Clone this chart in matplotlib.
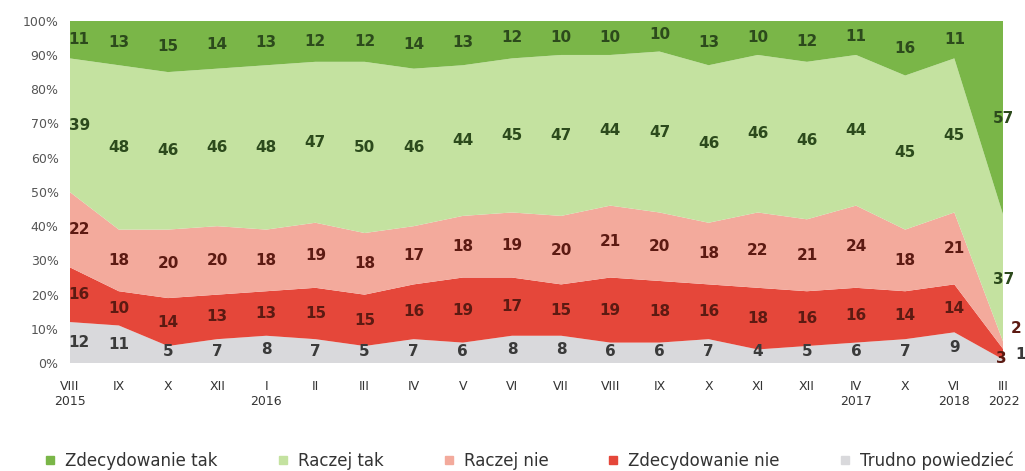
import numpy as np
import matplotlib
matplotlib.use("Agg")
from matplotlib import pyplot as plt
from matplotlib.lines import Line2D

months = ["VIII", "IX", "X", "XII", "I", "II", "III", "IV", "V", "VI",
          "VII", "VIII", "IX", "X", "XI", "XII", "IV", "X", "VI", "III"]
years = ["2015", "", "", "", "2016", "", "", "", "", "",
         "", "", "", "", "", "", "2017", "", "2018", "2022"]

zdecydowanie_tak = [11, 13, 15, 14, 13, 12, 12, 14, 13, 12, 10, 10, 10, 13, 10, 12, 11, 16, 11, 57]
raczej_tak = [39, 48, 46, 46, 48, 47, 50, 46, 44, 45, 47, 44, 47, 46, 46, 46, 44, 45, 45, 37]
raczej_nie = [22, 18, 20, 20, 18, 19, 18, 17, 18, 19, 20, 21, 20, 18, 22, 21, 24, 18, 21, 2]
zdecydowanie_nie = [16, 10, 14, 13, 13, 15, 15, 16, 19, 17, 15, 19, 18, 16, 18, 16, 16, 14, 14, 3]
trudno = [12, 11, 5, 7, 8, 7, 5, 7, 6, 8, 8, 6, 6, 7, 4, 5, 6, 7, 9, 1]

series_names = ["Zdecydowanie tak", "Raczej tak", "Raczej nie", "Zdecydowanie nie", "Trudno powiedzieć"]

# bottom-up order for stacking
stack = [trudno, zdecydowanie_nie, raczej_nie, raczej_tak, zdecydowanie_tak]
fills = ["#d9d9dc", "#e5473a", "#f3aa9c", "#c4e2a0", "#7ab648"]
text_cols = ["#3a3a3a", "#5c1a12", "#5c1a12", "#2c4a1c", "#2c4a1c"]

fig = plt.figure(figsize=(10.25, 4.71), dpi=100)
ax = fig.add_axes([0.068, 0.229, 0.911, 0.727])

x = np.arange(len(months))
data = np.array(stack, dtype=float)
ax.stackplot(x, data, colors=fills, linewidth=0)

cum = np.cumsum(data, axis=0)
last = len(x) - 1
for i in range(len(stack)):
    lower = cum[i] - data[i]
    for j in x:
        xm = j
        ym = lower[j] + data[i][j] / 2
        ha = "center"
        if j == 0:
            ha = "left"
            xm = -0.02
        if j == last:
            # crowded end of the chart: small values moved aside
            if i == 2:
                xm, ym = last + 0.25, 10
            elif i == 1:
                xm, ym = last - 0.05, 1.5
            elif i == 0:
                xm, ym = last + 0.35, 2.5
        if i == 0 and j != last:
            ym = max(ym, 3.5)
        ax.text(xm, ym, str(int(data[i][j])), ha=ha, va="center",
                fontsize=11, fontweight="bold", color=text_cols[i])

ax.set_xlim(0, last)
ax.set_ylim(0, 100)
ax.set_yticks(range(0, 101, 10))
ax.set_yticklabels([f"{v}%" for v in range(0, 101, 10)], fontsize=9, color="#555555")
ax.set_xticks(x)
ax.set_xticklabels([f"{m}\n{y}" if y else m for m, y in zip(months, years)],
                   fontsize=9, color="#333333", va="top")
ax.tick_params(length=0, pad=8)
ax.tick_params(axis="x", pad=12)
for s in ax.spines.values():
    s.set_visible(False)

handles = [Line2D([], [], marker="s", linestyle="", markersize=6, color=fills[4 - k])
           for k in range(5)]
fig.legend(handles, series_names, loc="center", bbox_to_anchor=(0.515, 0.022),
           ncol=5, frameon=False, fontsize=12, handletextpad=0.4, columnspacing=3.4,
           labelcolor="#333333", handlelength=1.0)

fig.savefig("out.png", dpi=100, facecolor="white")
